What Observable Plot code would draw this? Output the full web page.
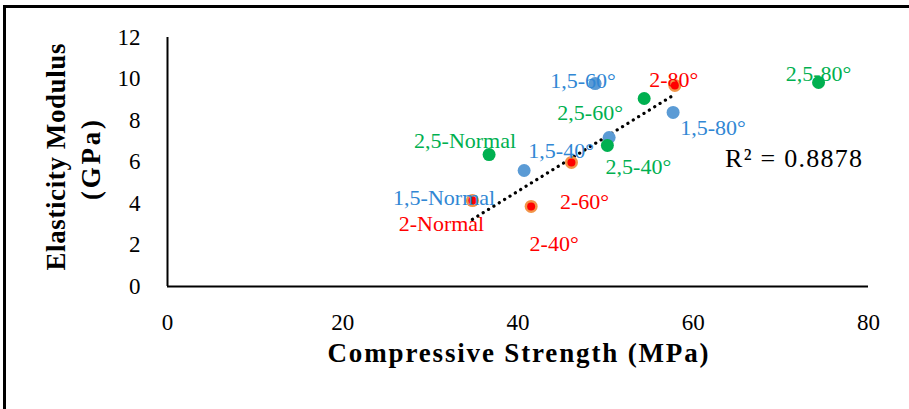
<!DOCTYPE html>
<html>
<head>
<meta charset="utf-8">
<script src="https://cdn.jsdelivr.net/npm/d3@7"></script>
<script src="https://cdn.jsdelivr.net/npm/@observablehq/plot@0.6"></script>
<style>
  html, body { margin: 0; padding: 0; background: #fff; }
  #wrap { position: relative; width: 909px; height: 409px; overflow: hidden; }
  #border { position: absolute; left: 3px; top: 5px; width: 920px; height: 420px;
            border-left: 3px solid #000; border-top: 3px solid #000; pointer-events: none; }
</style>
</head>
<body>
<div id="wrap"><div id="border"></div></div>
<script>
// ---- data ----
const labels   = ["1,5-Normal","1,5-40°","1,5-60°","1,5-80°",
                  "2-Normal","2-40°","2-60°","2-80°",
                  "2,5-Normal","2,5-40°","2,5-60°","2,5-80°"];
const groups   = ["1,5","1,5","1,5","1,5","2","2","2","2","2,5","2,5","2,5","2,5"];
const strength = [40.7, 50.4, 48.8, 57.7, 34.8, 41.5, 46.1, 57.9, 36.7, 50.2, 54.4, 74.3];
const modulus  = [5.59, 7.18, 9.78, 8.39, 4.14, 3.86, 5.98, 9.69, 6.36, 6.80, 9.06, 9.83];
const xTicks   = [0, 20, 40, 60, 80];
const yTicks   = [0, 2, 4, 6, 8, 10, 12];
const xTitle   = "Compressive Strength (MPa)";
const yTitle1  = "Elasticity Modulus";
const yTitle2  = "(GPa)";
const r2Text   = "R² = 0.8878";

// label offsets (pixels) as placed in the reference
const labelOffset = {
  "1,5-Normal": [-80, 27], "1,5-40°": [-48, 13], "1,5-60°": [-12, -3], "1,5-80°": [40, 16],
  "2-Normal": [-31, 23], "2-40°": [23, 38], "2-60°": [13, 40], "2-80°": [-1, -5],
  "2,5-Normal": [-24, -14], "2,5-40°": [31, 22], "2,5-60°": [-54, 14], "2,5-80°": [0, -9]
};
const pointColor = {"1,5": "#5B9BD5", "2": "#F29448", "2,5": "#00B050"};
const textColor  = {"1,5": "#3187D4", "2": "#FF0000", "2,5": "#00B050"};

const data = labels.map((label, i) => ({
  label, group: groups[i], x: strength[i], y: modulus[i],
  dx: labelOffset[label][0], dy: labelOffset[label][1]
}));
const red = data.filter(d => d.group === "2");

const serif = "'Liberation Serif', 'Times New Roman', serif";

const chart = Plot.plot({
  width: 909,
  height: 409,
  marginLeft: 167,
  marginRight: 41,
  marginTop: 37,
  marginBottom: 123,
  style: { fontFamily: serif, fontSize: "23px", color: "#000", background: "transparent", overflow: "visible" },
  x: { domain: [0, 80], ticks: xTicks, tickSize: 0, tickPadding: 27, label: null, tickFormat: d => String(d) },
  y: { domain: [0, 12], ticks: yTicks, tickSize: 0, tickPadding: 27, label: null, tickFormat: d => String(d) },
  marks: [
    Plot.ruleY([0], { stroke: "#000", strokeWidth: 2 }),
    Plot.ruleX([0], { stroke: "#000", strokeWidth: 2 }),
    Plot.linearRegressionY(red, {
      x: "x", y: "y", ci: 0, stroke: "#000", strokeWidth: 3.2,
      strokeDasharray: "0.1 6.2", strokeLinecap: "round"
    }),
    Plot.dot(data, { x: "x", y: "y", r: 6.5, fill: d => pointColor[d.group], stroke: "none" }),
    Plot.dot(red, { x: "x", y: "y", r: 4, fill: "#FF0000", stroke: "none" }),
    ...data.map(d => Plot.text([d], {
      x: "x", y: "y", text: "label", dx: d.dx, dy: d.dy,
      fill: textColor[d.group], fontSize: 22, fontFamily: serif, textAnchor: "middle"
    })),
    Plot.text([r2Text], { frameAnchor: "right", dx: -75, dy: -3, text: d => d,
      fontSize: 26, fontFamily: serif, fill: "#000", textAnchor: "middle" }),
    Plot.text([xTitle], { frameAnchor: "bottom", dy: 75, text: d => d, textAnchor: "middle",
      fontSize: 27, fontWeight: "bold", fontFamily: serif, fill: "#000" }),
    Plot.text([yTitle1], { frameAnchor: "left", dx: -111, dy: -5, rotate: -90, text: d => d,
      textAnchor: "middle", fontSize: 27, fontWeight: "bold", fontFamily: serif, fill: "#000" }),
    Plot.text([yTitle2], { frameAnchor: "left", dx: -76, dy: -2, rotate: -90, text: d => d,
      textAnchor: "middle", fontSize: 27, fontWeight: "bold", fontFamily: serif, fill: "#000" })
  ]
});

// spread the widely spaced title texts to match the reference
const targetLength = { [xTitle]: 381, [yTitle1]: 227, [yTitle2]: 80, [r2Text]: 137 };
d3.select(chart).selectAll("text").each(function () {
  const t = this.textContent;
  if (targetLength[t]) {
    d3.select(this).attr("textLength", targetLength[t]).attr("lengthAdjust", "spacing");
  }
});

chart.style.position = "absolute";
chart.style.left = "0px";
chart.style.top = "0px";
document.getElementById("wrap").prepend(chart);
</script>
</body>
</html>
